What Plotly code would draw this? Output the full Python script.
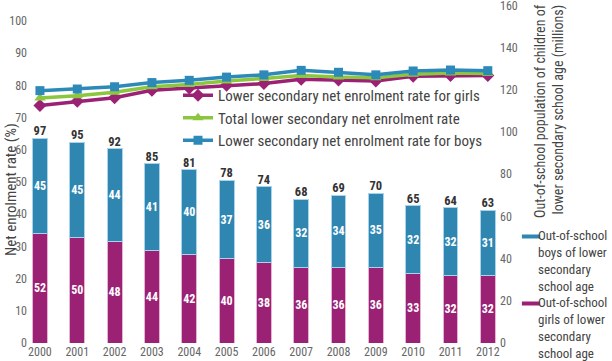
import plotly.graph_objects as go

years = ["2000", "2001", "2002", "2003", "2004", "2005", "2006", "2007", "2008", "2009", "2010", "2011", "2012"]
girls_out = [52, 50, 48, 44, 42, 40, 38, 36, 36, 36, 33, 32, 32]
boys_out = [45, 45, 44, 41, 40, 37, 36, 32, 34, 35, 32, 32, 31]
total_out = [97, 95, 92, 85, 81, 78, 74, 68, 69, 70, 65, 64, 63]
rate_girls = [73.8, 75.1, 76.2, 78.5, 79.2, 80.1, 80.6, 81.9, 81.7, 81.4, 82.9, 83.1, 83.1]
rate_total = [76.1, 76.8, 77.9, 79.6, 80.3, 81.4, 82.2, 83.1, 82.6, 82.4, 83.5, 83.9, 83.7]
rate_boys = [78.4, 78.9, 79.6, 80.9, 81.6, 82.6, 83.3, 84.7, 84.1, 83.3, 84.5, 84.8, 84.6]
bar_legend_boys = ["Out-of-school", "boys of lower", "secondary", "school age"]
bar_legend_girls = ["Out-of-school", "girls of lower", "secondary", "school age"]
right_title = ["Out-of-school population of children of", "lower secondary school age (millions)"]

FONT = "Roboto Condensed, Liberation Sans Narrow, sans-serif"
BLUE = "#2f86b1"
PURPLE = "#9a2174"
GREEN = "#8cc63f"
LBLUE = "#2d8ab8"
GREY = "#666666"
DARK = "#444444"

# plot area in pixels (for placing text around it)
L, R, T, B = 28, 499, 5, 343
def px(x):
    return (x - L) / (R - L)
def py(y):
    return (B - y) / (B - T)

fig = go.Figure()

fig.add_trace(go.Bar(x=years, y=girls_out, yaxis="y2", marker=dict(color=PURPLE, line=dict(color="#e6b3d3", width=1)),
                     text=[f"<b>{v}</b>" for v in girls_out], textposition="inside", insidetextanchor="middle",
                     constraintext="none", textangle=0,
                     textfont=dict(color="white", size=12, family=FONT), width=0.4, showlegend=False))
fig.add_trace(go.Bar(x=years, y=boys_out, yaxis="y2", marker=dict(color=BLUE, line=dict(color="#a9d3ea", width=1)),
                     text=[f"<b>{v}</b>" for v in boys_out], textposition="inside", insidetextanchor="middle",
                     constraintext="none", textangle=0,
                     textfont=dict(color="white", size=12, family=FONT), width=0.4, showlegend=False))
tops = [g + b for g, b in zip(girls_out, boys_out)]
fig.add_trace(go.Scatter(x=years, y=tops, yaxis="y2", mode="text", text=[f"<b>{t}</b>" for t in total_out],
                         textposition="top center", textfont=dict(color="#333333", size=12.5, family=FONT),
                         showlegend=False, cliponaxis=False))

fig.add_trace(go.Scatter(x=years, y=rate_girls, mode="lines+markers", name="Lower secondary net enrolment rate for girls",
                         line=dict(color=PURPLE, width=3.5), marker=dict(symbol="diamond", size=10, color=PURPLE), legend="legend"))
fig.add_trace(go.Scatter(x=years, y=rate_total, mode="lines+markers", name="Total lower secondary net enrolment rate",
                         line=dict(color=GREEN, width=3.5), marker=dict(symbol="triangle-up", size=10, color=GREEN), legend="legend"))
fig.add_trace(go.Scatter(x=years, y=rate_boys, mode="lines+markers", name="Lower secondary net enrolment rate for boys",
                         line=dict(color=LBLUE, width=3.5), marker=dict(symbol="square", size=9, color=LBLUE), legend="legend"))

fig.add_trace(go.Scatter(x=[None], y=[None], mode="markers", name=" ", legendgroup="boys",
                         marker=dict(symbol="line-ew", size=13, line=dict(width=4, color=BLUE)), legend="legend2"))
fig.add_trace(go.Scatter(x=[None], y=[None], mode="markers", name=" ", legendgroup="girls",
                         marker=dict(symbol="line-ew", size=13, line=dict(width=4, color=PURPLE)), legend="legend2"))

anns = [
    dict(text="Net enrolment rate (%)", xref="paper", yref="paper", x=px(11), y=py(190), textangle=-90,
         xanchor="center", yanchor="middle", showarrow=False, font=dict(size=15, color=DARK, family=FONT)),
    dict(text="<br>".join(right_title), xref="paper", yref="paper", x=px(549), y=py(2), textangle=-90,
         xanchor="center", yanchor="top", align="right", showarrow=False,
         font=dict(size=14, color=DARK, family=FONT)),
    dict(text="<br>".join(bar_legend_boys), xref="paper", yref="paper", x=px(536), y=py(226), xanchor="left",
         yanchor="top", align="left", showarrow=False, font=dict(size=13, color=DARK, family=FONT)),
    dict(text="<br>".join(bar_legend_girls), xref="paper", yref="paper", x=px(536), y=py(293), xanchor="left",
         yanchor="top", align="left", showarrow=False, font=dict(size=13, color=DARK, family=FONT)),
]

fig.update_layout(
    width=612, height=361,
    margin=dict(l=L, r=612 - R, t=T, b=361 - B, autoexpand=False),
    paper_bgcolor="white", plot_bgcolor="white",
    barmode="stack",
    font=dict(family=FONT, color=GREY),
    xaxis=dict(range=[-0.32, 12.3], showgrid=False, showline=False, ticks="", automargin=False,
               tickfont=dict(size=12, color=GREY, family=FONT)),
    yaxis=dict(range=[0, 105], tickvals=[0, 10, 20, 30, 40, 50, 60, 70, 80, 90, 100], showgrid=False, zeroline=False,
               showline=False, automargin=False, tickfont=dict(size=12, color=GREY, family=FONT)),
    yaxis2=dict(range=[0, 160.2], overlaying="y", side="right", tickvals=[0, 20, 40, 60, 80, 100, 120, 140, 160],
                showgrid=False, zeroline=False, showline=False, automargin=False, ticklabeloverflow="allow",
                tickfont=dict(size=12, color=GREY, family=FONT)),
    legend=dict(x=px(178), y=py(79), xanchor="left", yanchor="top", bgcolor="rgba(0,0,0,0)", traceorder="normal",
                font=dict(size=15, color=DARK, family=FONT), tracegroupgap=0, itemwidth=30),
    legend2=dict(xref="container", yref="container", x=511 / 612, y=1 - 222 / 361, xanchor="left", yanchor="top",
                 bgcolor="rgba(0,0,0,0)", traceorder="grouped", tracegroupgap=48, itemwidth=30,
                 font=dict(size=12, color=DARK, family=FONT)),
    annotations=anns,
)

fig.write_html("out.html", config={"displayModeBar": False},
               post_script="document.body.style.margin='0';document.body.style.overflow='hidden';")
